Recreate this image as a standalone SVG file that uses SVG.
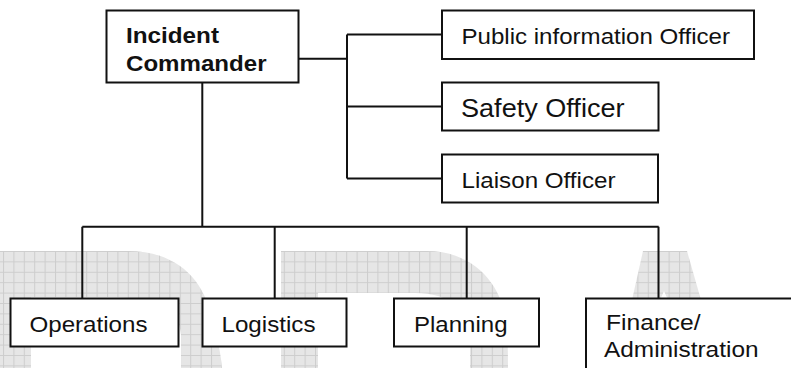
<svg xmlns="http://www.w3.org/2000/svg" width="791" height="368" viewBox="0 0 791 368">
  <defs>
    <pattern id="grid" patternUnits="userSpaceOnUse" x="3" y="251" width="10.4" height="10.4">
      <rect width="10.4" height="10.4" fill="#e6e6e6"/>
      <path d="M0.5,0 V10.4 M0,0.5 H10.4" stroke="#cdcdcd" stroke-width="1" fill="none"/>
    </pattern>
    <style>
      .box { fill: #ffffff; stroke: #111111; stroke-width: 2; }
      .wire { fill: none; stroke: #111111; stroke-width: 2; }
      .lbl { font-family: "Liberation Sans", Arial, sans-serif; font-size: 22px; fill: #111111; }
      .lbl-b { font-weight: bold; }
      .lbl-l { font-size: 26px; }
      .mark { fill: url(#grid); }
    </style>
  </defs>

  <rect width="791" height="368" fill="#ffffff"/>

  <!-- background lettering -->
  <g id="watermark">
    <path class="mark" fill-rule="evenodd" d="M0,251 H128 C172,251 204,275 212,320 C218,340 221,355 222,368 H181 V335 C180,312 160,297 110,297 H31 V368 H0 Z"/>
    <path class="mark" fill-rule="evenodd" d="M281,251 H427 C470,251 500,280 506,320 C508,340 508,355 508,368 H470 V335 C468,310 450,293 415,293 H318 V368 H281 Z"/>
    <path class="mark" d="M643,251 H687 L701,300 H632 Z"/>
    <path d="M660,300 L664,291 L668,300 Z" fill="#ffffff"/>
  </g>

  <!-- connectors -->
  <g id="connectors">
    <path class="wire" d="M299,58.7 H347 M347,34.5 V178.5 M347,34.5 H442 M347,106.5 H442 M347,178.5 H442"/>
    <path class="wire" d="M202.3,82.7 V226.7 M82.3,226.7 H658.7 M82.3,226.7 V298 M274.7,226.7 V298 M466.7,226.7 V298 M658.5,226.7 V298"/>
  </g>

  <g id="incident-commander">
    <rect class="box" x="106.5" y="10.5" width="192" height="72"/>
    <text class="lbl lbl-b" x="126" y="43.3" textLength="93" lengthAdjust="spacingAndGlyphs">Incident</text>
    <text class="lbl lbl-b" x="126" y="70.7" textLength="140.5" lengthAdjust="spacingAndGlyphs">Commander</text>
  </g>

  <g id="public-information-officer">
    <rect class="box" x="442" y="10.5" width="312" height="48.5"/>
    <text class="lbl" x="461.5" y="44" textLength="268.5" lengthAdjust="spacingAndGlyphs">Public information Officer</text>
  </g>

  <g id="safety-officer">
    <rect class="box" x="442" y="82.5" width="216.5" height="48"/>
    <text class="lbl lbl-l" x="461" y="116.7" textLength="163.5" lengthAdjust="spacingAndGlyphs">Safety Officer</text>
  </g>

  <g id="liaison-officer">
    <rect class="box" x="442" y="154.5" width="216" height="48"/>
    <text class="lbl" x="461.5" y="188" textLength="154" lengthAdjust="spacingAndGlyphs">Liaison Officer</text>
  </g>

  <g id="operations">
    <rect class="box" x="10.5" y="298.5" width="168" height="48"/>
    <text class="lbl" x="29.5" y="331.7" textLength="118" lengthAdjust="spacingAndGlyphs">Operations</text>
  </g>

  <g id="logistics">
    <rect class="box" x="202.5" y="298.5" width="144" height="48"/>
    <text class="lbl" x="221.5" y="331.7" textLength="94" lengthAdjust="spacingAndGlyphs">Logistics</text>
  </g>

  <g id="planning">
    <rect class="box" x="394" y="298.5" width="145" height="48"/>
    <text class="lbl" x="414" y="331.7" textLength="93.5" lengthAdjust="spacingAndGlyphs">Planning</text>
  </g>

  <g id="finance-administration">
    <rect class="box" x="586" y="298.5" width="220" height="90"/>
    <text class="lbl" x="606" y="330" textLength="94.5" lengthAdjust="spacingAndGlyphs">Finance/</text>
    <text class="lbl" x="604" y="357.3" textLength="154.5" lengthAdjust="spacingAndGlyphs">Administration</text>
  </g>
</svg>
